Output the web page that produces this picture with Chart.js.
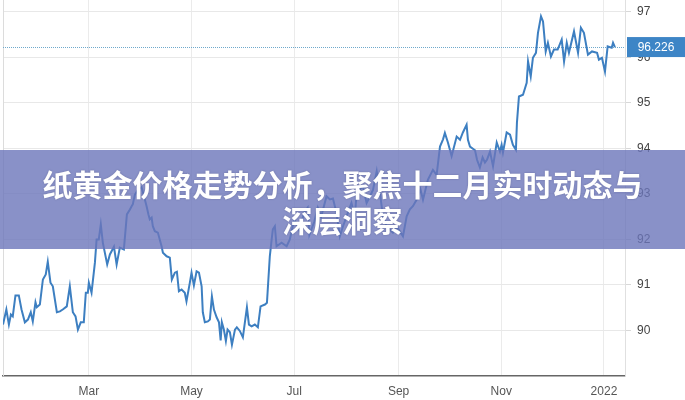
<!DOCTYPE html>
<html>
<head>
<meta charset="utf-8">
<script src="https://cdn.jsdelivr.net/npm/chart.js@4/dist/chart.umd.min.js"></script>
<style>
  html, body { margin: 0; padding: 0; background: #fff; }
  #wrap { position: relative; width: 685px; height: 400px; overflow: hidden; }
  #c { position: absolute; left: 0; top: 0; }
  #banner {
    position: absolute; left: 0; top: 150px; width: 685px; height: 99px;
    background: rgba(108,117,186,0.8);
    color: #fff; font-family: "Noto Sans CJK SC", "Noto Sans", sans-serif;
    font-weight: 700; font-size: 30px; line-height: 36px; text-align: center;
    box-sizing: border-box; padding-top: 15px;
    text-shadow: 0 0 2px rgba(40,40,80,0.35);
  }
</style>
</head>
<body>
<div id="wrap">
  <canvas id="c" width="685" height="400"></canvas>
  <div id="banner">纸黄金价格走势分析，聚焦十二月实时动态与<br>深层洞察</div>
</div>
<script>
// day of year 2021 (Jan 1 = 0) for each reading
const days = [8,10,11.5,12.7,13.8,15.4,17.4,19,21,22.8,24.5,25.7,27.3,28.1,29.9,31.7,33.4,34.6,36.2,37.6,40,41.8,43.5,45.9,47.7,49.5,51.1,52.5,54.2,56,57.2,58.4,59,60.6,62.6,63.6,64.9,66.1,67.3,69.9,71.5,73.9,75.5,77.4,79.8,81.6,83.4,84.4,85.1,86.3,88.1,90.3,91.7,93.3,94.4,95.2,96.3,97,98.2,100,102.2,103,105.2,107.1,108.3,110.1,111.3,112.5,114.1,116,117,119,120,121.4,123,124.4,126,126.7,127.9,129.7,130.9,132.1,133.3,134.9,136.3,137.3,138,139.2,140.4,141.4,142.8,144,145.8,146.9,148.7,150.5,152.9,154.1,155.7,157.6,159.4,161,163.6,164.8,166.5,167.6,168.3,169.5,170.5,173.5,176.5,178.4,181,184,187,189,190,193,195,197,200.2,202.2,204,206,208.1,210,213,215,217,218.1,221.8,224,226,227.8,230,232,233.7,235.9,239.6,241.8,245.6,247.8,249.7,251.5,253.7,256,257.5,260.4,263.4,265.6,267.6,269.4,270.5,272.3,274.5,277.5,279.5,281.2,283.4,284.2,285.4,288.4,289.6,291.3,292.9,294.3,295.5,297.3,299.1,301.3,303.2,304.2,305,307.2,309.2,310.9,312.7,313.3,314.5,316.9,319.1,319.9,321.5,322.8,324.6,325.8,327.6,328.8,330.4,331.7,333.5,335.3,337.5,339.9,341.3,342.9,344.2,347.2,349.6,351.3,353.1,355.5,357.9,360.9,362,363.8,365.6,367.2,369.6,370.4,371.5];
const values = [90.13,90.46,90.13,90.35,90.31,90.77,90.77,90.46,90.18,90.24,90.40,90.20,90.62,90.51,90.57,91.12,91.23,91.51,91.05,90.97,90.40,90.42,90.46,90.53,90.97,90.40,90.31,90.02,90.18,90.18,90.83,90.83,91.05,90.83,91.49,92.00,92.00,92.33,91.93,91.45,91.67,91.84,91.45,91.82,91.78,92.55,92.66,92.73,92.77,92.98,93.09,93.15,92.96,92.73,92.55,92.44,92.48,92.29,92.18,92.15,91.85,91.71,91.63,91.60,91.12,91.27,91.29,90.86,90.90,90.83,90.64,91.05,91.27,90.99,91.30,91.27,90.97,90.40,90.18,90.20,90.24,90.75,90.46,90.29,90.18,89.78,90.18,90.02,89.77,90.02,89.96,89.69,90.02,90.07,89.99,89.85,90.51,90.13,90.09,90.13,90.07,90.53,90.57,90.61,91.63,92.00,92.22,92.29,91.85,91.93,91.85,92.00,92.44,92.2,92.6,92.7,92.1,92.4,92.7,92.5,92.95,92.88,92.9,92.6,92.07,92.29,92.6,92.8,92.5,93.03,93.17,92.8,92.95,93.09,93.5,93.0,92.51,92.29,92.15,92.29,92.07,92.51,92.66,92.73,92.87,93.1,92.87,93.31,93.53,93.42,94.04,94.2,94.34,94.13,93.83,94.26,94.19,94.35,94.52,94.19,94.04,93.96,93.75,93.58,93.80,93.69,93.75,93.93,93.61,94.13,93.93,94.08,93.91,94.35,94.30,94.08,93.97,94.56,95.14,95.18,95.44,95.91,95.58,95.99,96.10,96.54,96.90,96.79,96.13,96.32,96.02,96.17,96.17,96.39,95.91,96.32,96.10,96.57,96.10,96.65,96.54,96.06,96.13,96.10,95.95,95.99,95.69,96.24,96.21,96.32,96.226];

const xTickDays = [59, 120, 181, 243, 304, 365];
const xTickLabels = ['Mar', 'May', 'Jul', 'Sep', 'Nov', '2022'];
const yTickValues = [90, 91, 92, 93, 94, 95, 96, 97];
const lastValue = 96.226;
const lastLabel = '96.226';

const points = days.map((d, i) => ({ x: d, y: values[i] }));

const overlay = {
  id: 'overlay',
  beforeDatasetsDraw(chart) {
    const { ctx, chartArea, scales } = chart;
    ctx.save();
    ctx.strokeStyle = '#dcdcdc';
    ctx.lineWidth = 1;
    ctx.beginPath();
    ctx.moveTo(chartArea.left + 0.5, chartArea.top);
    ctx.lineTo(chartArea.left + 0.5, chartArea.bottom);
    ctx.stroke();
    const y = Math.round(scales.y.getPixelForValue(lastValue)) + 0.5;
    ctx.strokeStyle = '#6fa9cc';
    ctx.setLineDash([1, 1]);
    ctx.beginPath();
    ctx.moveTo(chartArea.left, y);
    ctx.lineTo(chartArea.right, y);
    ctx.stroke();
    ctx.restore();
  },
  afterDraw(chart) {
    const { ctx, chartArea, scales } = chart;
    const y = scales.y.getPixelForValue(lastValue);
    ctx.save();
    ctx.fillStyle = '#3d85c6';
    ctx.fillRect(chartArea.right + 2, y - 10, chart.width - chartArea.right - 2, 20);
    ctx.fillStyle = '#ffffff';
    ctx.font = '12px "Liberation Sans", Arial, sans-serif';
    ctx.textAlign = 'center';
    ctx.textBaseline = 'middle';
    ctx.fillText(lastLabel, (chartArea.right + 2 + chart.width) / 2, y + 0.5);
    ctx.restore();
  }
};

new Chart(document.getElementById('c'), {
  type: 'line',
  data: {
    datasets: [{
      data: points,
      borderColor: '#3d7fc1',
      borderWidth: 2,
      pointRadius: 0,
      tension: 0,
      fill: false
    }]
  },
  options: {
    responsive: false,
    animation: false,
    layout: { padding: { left: 3, top: 0, right: 0, bottom: 0 } },
    plugins: { legend: { display: false }, tooltip: { enabled: false } },
    scales: {
      x: {
        type: 'linear',
        min: 8,
        max: 377.5,
        afterBuildTicks(s) { s.ticks = xTickDays.map(v => ({ value: v })); },
        afterFit(s) { s.height = 24; s.paddingLeft = 0; s.paddingRight = 0; },
        ticks: {
          autoSkip: false,
          maxRotation: 0,
          padding: 8,
          color: '#555',
          font: { family: '"Liberation Sans", Arial, sans-serif', size: 12 },
          callback(v) { const i = xTickDays.indexOf(v); return i >= 0 ? xTickLabels[i] : ''; }
        },
        grid: { color: '#ebebeb', drawTicks: false },
        border: { color: '#666', width: 1.5 }
      },
      y: {
        type: 'linear',
        position: 'right',
        min: 89.0,
        max: 97.26,
        afterBuildTicks(s) { s.ticks = yTickValues.map(v => ({ value: v })); },
        afterFit(s) { s.width = 60; s.paddingTop = 0; s.paddingBottom = 0; },
        ticks: {
          padding: 6,
          color: '#444',
          font: { family: '"Liberation Sans", Arial, sans-serif', size: 12 },
          callback(v) { return String(v); }
        },
        grid: { color: '#e8e8e8', tickLength: 6, tickColor: '#d8d8d8' },
        border: { color: '#e0e0e0', width: 1 }
      }
    }
  },
  plugins: [overlay]
});
</script>
</body>
</html>
